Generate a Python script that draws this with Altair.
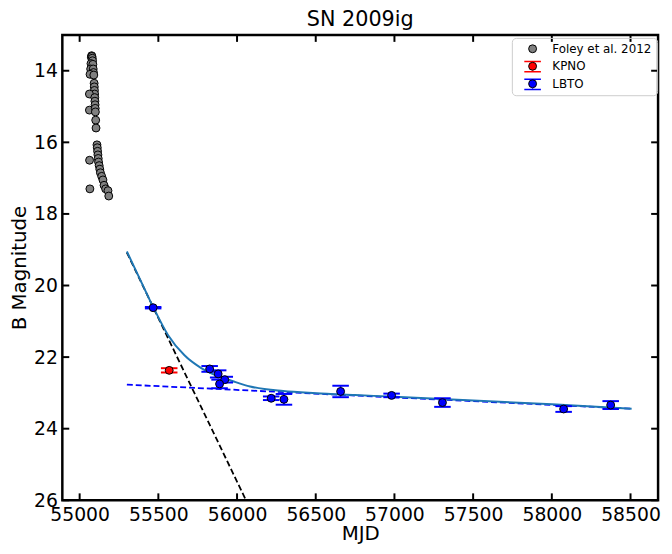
import altair as alt
import pandas as pd

# ---- data ----
foley_mjd = [55074, 55076, 55078, 55080, 55082, 55072, 55084, 55070, 55086, 55088, 55066, 55090,
             55092, 55093, 55094, 55095, 55062, 55096, 55097, 55098, 55062, 55099, 55100, 55102, 55104,
             55110, 55112, 55114, 55116, 55118, 55063, 55120, 55124, 55128, 55132, 55140, 55148,
             55155, 55065, 55165, 55180, 55185]
foley_mag = [13.62, 13.58, 13.60, 13.65, 13.72, 13.80, 13.82, 13.95, 13.95, 14.05, 14.10, 14.12,
             14.35, 14.45, 14.55, 14.65, 14.65, 14.75, 14.85, 14.95, 15.10, 15.05, 15.15, 15.38, 15.60,
             16.07, 16.15, 16.25, 16.35, 16.45, 16.50, 16.55, 16.65, 16.75, 16.85, 16.95, 17.05,
             17.20, 17.30, 17.30, 17.35, 17.50]

kpno_mjd = [55569]
kpno_mag = [22.37]
kpno_err = [0.06]

lbto_mjd = [55467, 55826, 55880, 55922, 55889, 56217, 56298, 56658, 56982, 57305, 58075, 58374]
lbto_mag = [20.62, 22.33, 22.47, 22.63, 22.75, 23.15, 23.18, 22.96, 23.07, 23.27, 23.45, 23.34]
lbto_err = [0.02, 0.08, 0.10, 0.08, 0.12, 0.05, 0.15, 0.16, 0.05, 0.12, 0.08, 0.11]

fit_mjd = [55300, 55383, 55467, 55561, 55666, 55770, 55833, 55979, 56083, 56293, 56502,
           56750, 57000, 57500, 58000, 58507]
fit_mag = [19.05, 19.82, 20.60, 21.38, 21.95, 22.30, 22.45, 22.68, 22.82, 22.95, 23.01,
           23.06, 23.11, 23.21, 23.32, 23.44]

early_mjd = [55300, 56057]
early_mag = [19.08, 26.0]
late_mjd = [55300, 58500]
late_mag = [22.77, 23.44]

x_ticks = [55000, 55500, 56000, 56500, 57000, 57500, 58000, 58500]
y_ticks = [14, 16, 18, 20, 22, 24, 26]

sources = ["Foley et al. 2012", "KPNO", "LBTO"]
source_colors = ["#808080", "#ff0000", "#0000ff"]
# second (overlaid, label-less) legend that draws the error-bar caps of the legend handles
cap_keys = [s + " " for s in sources]
cap_colors = ["transparent", "#ff0000", "#0000ff"]

# ---- tables ----
pts = pd.concat([
    pd.DataFrame({"mjd": foley_mjd, "mag": foley_mag, "source": sources[0]}),
    pd.DataFrame({"mjd": kpno_mjd, "mag": kpno_mag, "source": sources[1]}),
    pd.DataFrame({"mjd": lbto_mjd, "mag": lbto_mag, "source": sources[2]}),
], ignore_index=True)

eb = pd.concat([
    pd.DataFrame({"mjd": kpno_mjd, "mag": kpno_mag, "err": kpno_err, "col": "#ff0000", "key": cap_keys[1]}),
    pd.DataFrame({"mjd": lbto_mjd, "mag": lbto_mag, "err": lbto_err, "col": "#0000ff", "key": cap_keys[2]}),
], ignore_index=True)
eb["lo"] = eb["mag"] - eb["err"]
eb["hi"] = eb["mag"] + eb["err"]
caps = pd.concat([
    pd.DataFrame({"mjd": eb["mjd"], "v": eb["lo"], "key": eb["key"]}),
    pd.DataFrame({"mjd": eb["mjd"], "v": eb["hi"], "key": eb["key"]}),
], ignore_index=True)

fit = pd.DataFrame({"mjd": fit_mjd, "mag": fit_mag})
early = pd.DataFrame({"mjd": early_mjd, "mag": early_mag})
late = pd.DataFrame({"mjd": late_mjd, "mag": late_mag})
xt = pd.DataFrame({"v": x_ticks})
yt = pd.DataFrame({"v": y_ticks})

W, H = 603, 471
FONT = "DejaVu Sans"

xscale = alt.Scale(domain=[54890, 58675], nice=False, zero=False)
yscale = alt.Scale(domain=[13.0, 26.0], reverse=True, nice=False, zero=False)
xaxis = alt.Axis(title="MJD", values=x_ticks, format="d", labelPadding=5, titlePadding=0,
                 labelFlush=False, labelOverlap=False)
yaxis = alt.Axis(title="B Magnitude", values=y_ticks, format="d", labelPadding=5, titlePadding=4,
                 labelFlush=False, labelOverlap=False)


def X(field):
    return alt.X(field, type="quantitative", scale=xscale, axis=xaxis)


def Y(field):
    return alt.Y(field, type="quantitative", scale=yscale, axis=yaxis)


LEG = dict(title=None, orient="none", legendX=455, legendY=3, padding=5,
           labelFontSize=12, labelFont=FONT, labelColor="black", symbolSize=64,
           symbolOffset=10, labelOffset=14)

early_line = alt.Chart(early).mark_line(color="black", strokeWidth=1.8, strokeDash=[6, 3], clip=True).encode(
    x=X("mjd"), y=Y("mag"))
late_line = alt.Chart(late).mark_line(color="#0000ff", strokeWidth=1.8, strokeDash=[6, 3], clip=True).encode(
    x=X("mjd"), y=Y("mag"))
fit_line = alt.Chart(fit).mark_line(color="#1f77b4", strokeWidth=2, interpolate="monotone", clip=True).encode(
    x=X("mjd"), y=Y("mag"))

err_rules = alt.Chart(eb).mark_rule(strokeWidth=1.5).encode(
    x=X("mjd"), y=Y("lo"), y2="hi", color=alt.Color("col:N", scale=None))
err_caps = alt.Chart(caps).mark_point(shape="M-1,0L1,0", size=280, filled=False, strokeWidth=2, opacity=1).encode(
    x=X("mjd"), y=Y("v"),
    stroke=alt.Stroke("key:N", scale=alt.Scale(domain=cap_keys, range=cap_colors),
                      legend=alt.Legend(symbolType="M-2.1,-1.3L2.1,-1.3M-2.1,1.3L2.1,1.3M0,-1.3L0,-1M0,1L0,1.3",
                                        symbolStrokeWidth=1.5, symbolFillColor="transparent",
                                        labelExpr="''", rowPadding=0, **LEG)))

points = alt.Chart(pts).mark_point(filled=True, size=64, stroke="black", strokeWidth=1, opacity=1).encode(
    x=X("mjd"), y=Y("mag"),
    fill=alt.Fill("source:N", scale=alt.Scale(domain=sources, range=source_colors),
                  legend=alt.Legend(strokeColor="#cccccc", cornerRadius=4, symbolType="circle",
                                    symbolStrokeColor="black", symbolStrokeWidth=1, rowPadding=5.7, **LEG)))

# inward ticks on all four sides, positioned by the scales
TL = 7
xt_bottom = alt.Chart(xt).mark_rule(color="black", strokeWidth=2).encode(
    x=X("v"), y=alt.value(H), y2=alt.value(H - TL))
xt_top = alt.Chart(xt).mark_rule(color="black", strokeWidth=2).encode(
    x=X("v"), y=alt.value(0), y2=alt.value(TL))
yt_left = alt.Chart(yt).mark_rule(color="black", strokeWidth=2).encode(
    y=Y("v"), x=alt.value(0), x2=alt.value(TL))
yt_right = alt.Chart(yt).mark_rule(color="black", strokeWidth=2).encode(
    y=Y("v"), x=alt.value(W), x2=alt.value(W - TL))

chart = alt.layer(
    early_line, late_line, fit_line, err_rules, err_caps, points,
    xt_bottom, xt_top, yt_left, yt_right
).properties(
    width=W, height=H,
    title=alt.Title("SN 2009ig", fontSize=21, font=FONT, fontWeight="normal", color="black", offset=4),
    autosize=alt.AutoSizeParams(type="none"),
    padding={"left": 55, "top": 24, "right": 6, "bottom": 43},
).configure_view(
    stroke="black", strokeWidth=2.5
).configure_axis(
    domain=False, ticks=False, grid=False,
    labelFont=FONT, labelFontSize=19, labelColor="black",
    titleFont=FONT, titleFontSize=20, titleFontWeight="normal", titleColor="black"
)

chart.save("out.html", embed_options={"renderer": "svg", "actions": False})
